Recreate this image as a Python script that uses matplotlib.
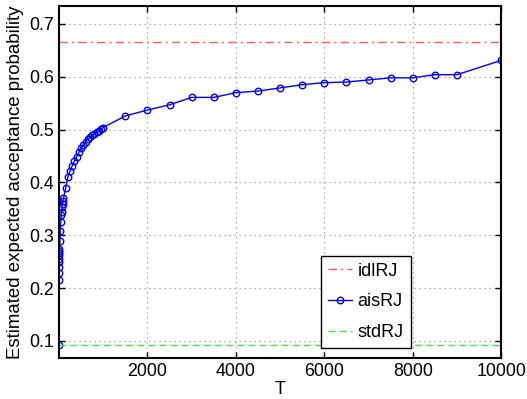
import matplotlib
matplotlib.use('Agg')
import matplotlib.pyplot as plt

plt.rcParams['font.family'] = ['Liberation Sans', 'DejaVu Sans']

# aisRJ estimates, one per value of T
T = [1, 2, 3, 4, 5, 6, 7, 8, 9, 10, 20, 30, 40, 50, 60, 70, 80, 90, 100,
     150, 200, 250, 300, 350, 400, 450, 500, 550, 600, 650, 700, 750, 800,
     850, 900, 950, 1000, 1500, 2000, 2500, 3000, 3500, 4000, 4500, 5000,
     5500, 6000, 6500, 7000, 7500, 8000, 8500, 9000, 10000]
ais = [0.092, 0.215, 0.228, 0.240, 0.250, 0.256, 0.262, 0.266, 0.270, 0.274,
       0.290, 0.309, 0.325, 0.338, 0.345, 0.353, 0.360, 0.365, 0.370,
       0.389, 0.410, 0.422, 0.432, 0.441, 0.449, 0.457, 0.465, 0.471, 0.477,
       0.482, 0.486, 0.489, 0.492, 0.495, 0.498, 0.501, 0.504, 0.526, 0.537,
       0.547, 0.561, 0.561, 0.570, 0.573, 0.579, 0.585, 0.589, 0.590, 0.594,
       0.598, 0.598, 0.604, 0.604, 0.631]
idl = 0.6665
std = 0.0915

x_ticks = [2000, 4000, 6000, 8000, 10000]
y_ticks = [0.1, 0.2, 0.3, 0.4, 0.5, 0.6, 0.7]

fig = plt.figure(figsize=(5.27, 3.99), dpi=100)
ax = fig.add_axes([0.112, 0.103, 0.839, 0.882])

ax.plot([0, 10000], [idl, idl], linestyle=(0, (6, 3, 1.5, 3)),
        color='#ff5a5a', linewidth=1.0, label='idlRJ')
ax.plot(T, ais, '-o', color='#0000ff', linewidth=1.0, markersize=4.7,
        markerfacecolor='none', markeredgewidth=1.0, label='aisRJ')
ax.plot([0, 10000], [std, std], linestyle=(0, (5, 3)), color='#33ee33',
        linewidth=1.0, label='stdRJ')

ax.set_xlim(0, 10000)
ax.set_ylim(0.068, 0.734)
ax.set_xticks(x_ticks)
ax.set_yticks(y_ticks)
ax.set_xticklabels([str(v) for v in x_ticks])
ax.set_yticklabels(['%.1f' % v for v in y_ticks])
ax.tick_params(direction='in', top=True, right=True, labelsize=12.8,
               length=4, width=1)
ax.grid(True, linestyle=(0, (1, 3)), color='#999999', linewidth=0.9)
for s in ax.spines.values():
    s.set_linewidth(1.5)

ax.set_xlabel('T', fontsize=13, labelpad=1)
ax.set_ylabel('Estimated expected acceptance probability', fontsize=13.4,
              labelpad=4)

leg = ax.legend(loc='lower left', bbox_to_anchor=(0.593, 0.028),
                fontsize=13, fancybox=False, framealpha=1,
                edgecolor='black', handlelength=1.3, labelspacing=0.75,
                borderpad=0.4, handletextpad=0.3, borderaxespad=0)
leg.get_frame().set_linewidth(1.0)

fig.savefig('out.png', dpi=100)
plt.close()
